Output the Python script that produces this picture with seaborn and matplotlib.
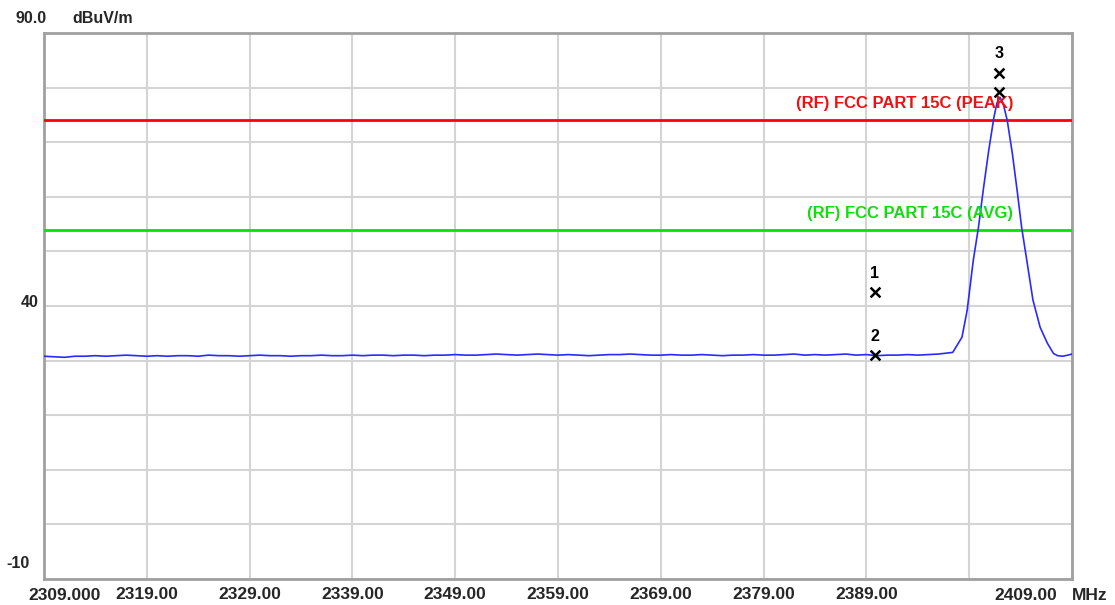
import matplotlib
matplotlib.use('Agg')
import matplotlib.pyplot as plt
import matplotlib.transforms as mtransforms
import seaborn as sns
import pandas as pd
import numpy as np

# trace: flat noise floor, 1 MHz steps from 2309 to 2396
base_freq = np.arange(2309, 2397)
base_level = [30.8, 30.7, 30.6, 30.8, 30.8, 30.9, 30.8, 30.9, 31.0, 30.9,
              30.8, 30.9, 30.8, 30.9, 30.9, 30.8, 31.0, 30.9, 30.9, 30.8,
              30.9, 31.0, 30.9, 30.9, 30.8, 30.9, 30.9, 31.0, 30.9, 30.9,
              31.0, 30.9, 31.0, 31.0, 30.9, 31.0, 31.0, 30.9, 31.0, 31.0,
              31.1, 31.0, 31.0, 31.1, 31.2, 31.1, 31.0, 31.1, 31.2, 31.1,
              31.0, 31.1, 31.0, 30.9, 31.0, 31.1, 31.1, 31.2, 31.1, 31.0,
              31.0, 31.1, 31.0, 31.0, 31.1, 31.0, 30.9, 31.0, 31.0, 31.1,
              31.0, 31.0, 31.1, 31.2, 31.0, 31.1, 31.0, 31.1, 31.2, 31.0,
              31.1, 30.9, 31.0, 31.0, 31.1, 31.0, 31.1, 31.2]

# trace: carrier peak
peak_freq = [2397.4, 2398.3, 2398.8, 2399.4, 2399.9, 2400.4, 2400.9, 2401.4,
             2401.7, 2402.0, 2402.3, 2402.7, 2403.2, 2403.7, 2404.1, 2404.6,
             2405.2, 2405.9, 2406.6, 2407.2, 2407.6, 2408.1, 2408.6, 2409.0]
peak_level = [31.5, 34.3, 39.2, 48.4, 54.4, 61.7, 68.5, 74.5,
              77.2, 78.2, 77.1, 74.0, 67.9, 60.6, 54.4, 48.4,
              41.1, 36.1, 33.2, 31.3, 30.9, 30.8, 31.0, 31.2]

# limit lines
limit_names = ['(RF) FCC PART 15C (PEAK)', '(RF) FCC PART 15C (AVG)']
limit_values = [74, 54]
limit_colors = ['#ff0000', '#00e600']
limit_text_colors = ['#ee1111', '#11dd11']

# markers
marker_ids = ['1', '2', '3', '']
marker_freq = [2389.8, 2389.8, 2401.9, 2401.9]
marker_level = [42.5, 31.0, 82.7, 79.2]

x_ticks = [2309, 2319, 2329, 2339, 2349, 2359, 2369, 2379, 2389, 2399, 2409]
x_labels = ['', '2319.00', '2329.00', '2339.00', '2349.00', '2359.00',
            '2369.00', '2379.00', '2389.00', '', '']
y_ticks = [-10, 0, 10, 20, 30, 40, 50, 60, 70, 80, 90]

trace = pd.DataFrame({'freq': list(base_freq) + peak_freq,
                      'level': base_level + peak_level})
marks = pd.DataFrame({'id': marker_ids, 'freq': marker_freq, 'level': marker_level})

sns.set_style('white')
plt.rcParams['font.family'] = ['Liberation Sans', 'DejaVu Sans']

fig = plt.figure(figsize=(11.15, 6.05), dpi=100, facecolor='white')
ax = fig.add_axes([44 / 1115, 26 / 605, 1028 / 1115, 546 / 605])

sns.lineplot(data=trace, x='freq', y='level', ax=ax, color='#2a2aff',
             linewidth=1.2, sort=False, estimator=None, zorder=4)

for name, val, c, tc in zip(limit_names, limit_values, limit_colors, limit_text_colors):
    ax.axhline(val, color=c, linewidth=2, zorder=3)
    ax.text(2403.3, val + 3.0, name, color=tc, fontsize=12, fontweight='bold',
            ha='right', va='center', zorder=5)

sns.scatterplot(data=marks, x='freq', y='level', ax=ax, marker='x', s=50,
                color='black', linewidth=1.8, zorder=6, legend=False)
for _, r in marks.iterrows():
    if r['id']:
        ax.text(r['freq'], r['level'] + 3.5, r['id'], fontsize=11.5, fontweight='bold',
                ha='center', va='center', color='black', zorder=6)

ax.set_xlim(2309, 2409)
ax.set_ylim(-10, 90)
ax.set_xticks(x_ticks)
ax.set_xticklabels(x_labels, fontsize=12.5, fontweight='bold')
ax.set_yticks(y_ticks)
ax.set_yticklabels([])
ax.tick_params(axis='both', length=0, pad=5.5)
ax.grid(True, color='#d4d4d4', linewidth=1.5)
ax.set_axisbelow(True)
ax.set_xlabel('')
ax.set_ylabel('')
for s in ax.spines.values():
    s.set_color('#a0a0a0')
    s.set_linewidth(2)

# special axis texts
xb = mtransforms.blended_transform_factory(ax.transData, ax.transAxes)
yb = mtransforms.blended_transform_factory(ax.transAxes, ax.transData)
ax.text(2311.0, -0.0305, '2309.000', transform=xb, fontsize=12.5, fontweight='bold',
        ha='center', va='center')
ax.text(2404.5, -0.0305, '2409.00', transform=xb, fontsize=12.5, fontweight='bold',
        ha='center', va='center')
ax.text(1.0, -0.0305, 'MHz', transform=ax.transAxes, fontsize=12.5, fontweight='bold',
        ha='left', va='center')
ax.text(-0.005, 40.6, '40', transform=yb, fontsize=11.5, fontweight='bold',
        ha='right', va='center')
ax.text(-0.0135, -7.1, '-10', transform=yb, fontsize=11.5, fontweight='bold',
        ha='right', va='center')
ax.text(-0.028, 1.027, '90.0', transform=ax.transAxes, fontsize=11.5, fontweight='bold',
        ha='left', va='center')
ax.text(0.028, 1.027, 'dBuV/m', transform=ax.transAxes, fontsize=11.5, fontweight='bold',
        ha='left', va='center')

fig.savefig('out.png', dpi=100, facecolor='white')
